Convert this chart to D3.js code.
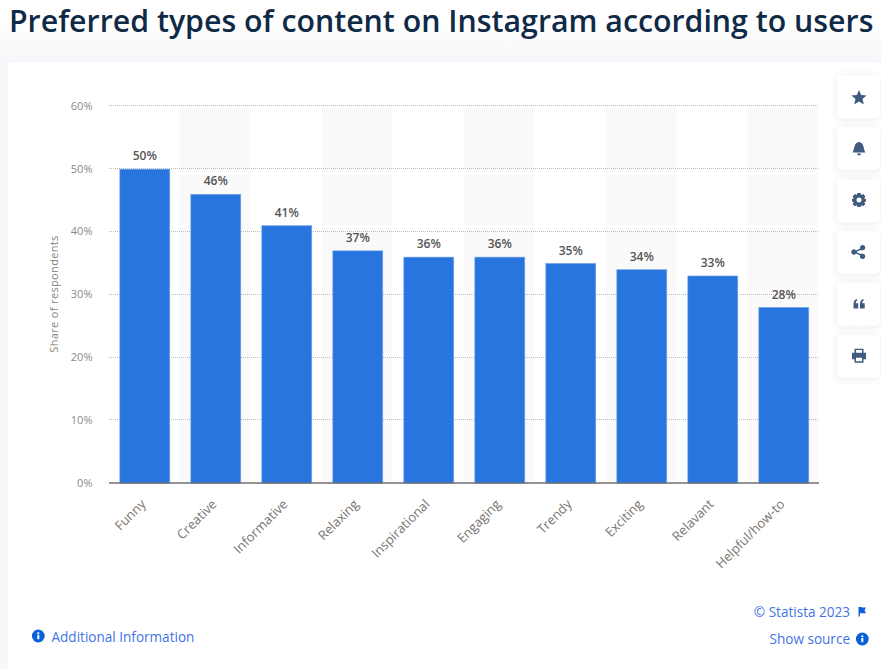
<!DOCTYPE html>
<html>
<head>
<meta charset="utf-8">
<script src="https://cdn.jsdelivr.net/npm/d3@7/dist/d3.min.js"></script>
<style>
html, body { margin: 0; padding: 0; background: #fff; overflow: hidden; }
text { font-family: "Open Sans", sans-serif; }
</style>
</head>
<body>
<svg id="chart" width="881" height="669"></svg>
<script>
const categories = ['Funny', 'Creative', 'Informative', 'Relaxing', 'Inspirational', 'Engaging', 'Trendy', 'Exciting', 'Relavant', 'Helpful/how-to']
const shares = [50, 46, 41, 37, 36, 36, 35, 34, 33, 28]
const yTicks = [0, 10, 20, 30, 40, 50, 60]

const titleText = 'Preferred types of content on Instagram according to users'
const yLabel = 'Share of respondents'

const svg = d3.select('#chart')
const defs = svg.append('defs')

const fade = defs.append('linearGradient').attr('id', 'fade').attr('x1', 0).attr('x2', 0).attr('y1', 0).attr('y2', 1)
fade.append('stop').attr('offset', 0.35).attr('stop-color', '#fff')
fade.append('stop').attr('offset', 1).attr('stop-color', '#f5f6f9')

const shadow = defs.append('filter').attr('id', 'btnShadow').attr('x', '-30%').attr('y', '-30%').attr('width', '160%').attr('height', '160%')
shadow.append('feDropShadow').attr('dx', 0).attr('dy', 1).attr('stdDeviation', 4).attr('flood-color', '#1f3a5f').attr('flood-opacity', 0.09)

// page background and card
svg.append('rect').attr('width', 881).attr('height', 669).attr('fill', '#f7f8fb')
svg.append('rect').attr('width', 881).attr('height', 63).attr('fill', 'url(#fade)')
svg.append('rect').attr('x', 8).attr('y', 62).attr('width', 873).attr('height', 620).attr('rx', 4).attr('fill', '#fff')

svg.append('text')
    .attr('x', 9).attr('y', 31.5)
    .attr('font-size', 30.3).attr('font-weight', 600)
    .attr('fill', '#0f2a46')
    .text(titleText)

const x = d3.scaleBand().domain(categories).range([108.5, 818.5]).paddingInner(0).paddingOuter(0)
const y = d3.scaleLinear().domain([0, 60]).range([483.3, 106.3])
const barWidth = 50
const barShift = 0.8

// alternating column shading
svg.append('g').selectAll('rect')
    .data(categories.filter((d, i) => i % 2 == 1))
    .join('rect')
    .attr('x', d => x(d))
    .attr('y', y(60))
    .attr('width', x.bandwidth())
    .attr('height', y(0) - y(60))
    .attr('fill', '#fafafa')

// gridlines
svg.append('g').selectAll('line')
    .data(yTicks.filter(d => d > 0))
    .join('line')
    .attr('x1', 109).attr('x2', 819)
    .attr('y1', d => Math.round(y(d)) - 0.5).attr('y2', d => Math.round(y(d)) - 0.5)
    .attr('stroke', '#bdbdbd')
    .attr('stroke-width', 1)
    .attr('stroke-dasharray', '1,1')

// y axis
const yAxis = svg.append('g')
    .attr('transform', 'translate(108.5,-0.6)')
    .call(d3.axisLeft(y).tickValues(yTicks).tickSize(0).tickPadding(16).tickFormat(d => d + '%'))
yAxis.select('.domain').remove()
yAxis.selectAll('text')
    .attr('font-size', 11)
    .attr('font-family', '"Open Sans", sans-serif')
    .attr('fill', '#8a8a8a')

svg.append('text')
    .attr('transform', 'translate(58,294) rotate(-90)')
    .attr('text-anchor', 'middle')
    .attr('font-size', 11)
    .attr('letter-spacing', 0.35)
    .attr('fill', '#8d7f78')
    .text(yLabel)

// bars
svg.append('g').selectAll('rect')
    .data(categories)
    .join('rect')
    .attr('x', d => x(d) + (x.bandwidth() - barWidth) / 2 + barShift)
    .attr('y', (d, i) => y(shares[i]))
    .attr('width', barWidth)
    .attr('height', (d, i) => y(0) - y(shares[i]))
    .attr('fill', '#2975df')
    .attr('stroke', '#7fabea')
    .attr('stroke-width', 0.6)

// value labels
svg.append('g').selectAll('text')
    .data(categories)
    .join('text')
    .attr('x', d => x(d) + x.bandwidth() / 2 + barShift)
    .attr('y', (d, i) => y(shares[i]) - 8.8)
    .attr('text-anchor', 'middle')
    .attr('font-size', 12)
    .attr('font-weight', 600)
    .attr('fill', '#555555')
    .text((d, i) => shares[i] + '%')

// x axis
const xAxis = svg.append('g')
    .attr('transform', 'translate(0,482.5)')
    .call(d3.axisBottom(x).tickSize(0).tickPadding(0))
xAxis.select('.domain').attr('stroke', '#707070').attr('stroke-width', 1.4)
xAxis.selectAll('text')
    .attr('font-size', 13)
    .attr('font-family', '"Open Sans", sans-serif')
    .attr('fill', '#7a7470')
    .attr('text-anchor', 'end')
    .attr('dy', 0)
    .attr('transform', d => `translate(${x.bandwidth() / 2 - 33},22.5) rotate(-45)`)

// side buttons
const iconColor = '#3f5b80'
const buttonIcons = [
    'M0,-7.5 L2.2,-2.4 L7.6,-2 L3.5,1.5 L4.8,7 L0,4.1 L-4.8,7 L-3.5,1.5 L-7.6,-2 L-2.2,-2.4 Z',
    'M-6.5,4 C-4.5,2 -5.5,-6 0,-6.5 C5.5,-6 4.5,2 6.5,4 Z M-2,5 A2,2 0 0 0 2,5 Z',
    'M-1.6,-7 L1.6,-7 L2.2,-5 L4.2,-6 L6.4,-3.6 L5.2,-1.6 L7,-1 L7,1.6 L5.2,2 L6.4,4 L4.2,6.2 L2.2,5.2 L1.6,7 L-1.6,7 L-2.2,5.2 L-4.2,6.2 L-6.4,4 L-5.2,2 L-7,1.6 L-7,-1 L-5.2,-1.6 L-6.4,-3.6 L-4.2,-6 L-2.2,-5 Z M0,-2.6 A2.6,2.6 0 1 0 0.01,-2.6 Z',
    'M3.6,-7 A2.6,2.6 0 1 1 3.6,-1.8 L1,-1.8 L-2,-0.6 A2.6,2.6 0 0 1 -2,0.6 L1,1.8 L3.6,1.8 A2.6,2.6 0 1 1 1.2,3.4 L-3,1.6 A2.6,2.6 0 1 1 -3,-1.6 L1.2,-3.4 A2.6,2.6 0 0 1 3.6,-7 Z',
    'M-5.5,4.5 L-5.5,0 C-5.5,-3 -4,-4.8 -2,-5 L-2,-3.2 C-2.8,-3 -3.2,-2 -3.2,-0.8 L-0.8,-0.8 L-0.8,4.5 Z M1,4.5 L1,0 C1,-3 2.5,-4.8 4.5,-5 L4.5,-3.2 C3.7,-3 3.3,-2 3.3,-0.8 L5.7,-0.8 L5.7,4.5 Z',
    'M-4.5,-7 L4.5,-7 L4.5,-3 L7,-3 L7,3.5 L4.5,3.5 L4.5,7 L-4.5,7 L-4.5,3.5 L-7,3.5 L-7,-3 L-4.5,-3 Z M-3,-5.6 L-3,-3 L3,-3 L3,-5.6 Z M-3,2 L-3,5.6 L3,5.6 L3,2 Z'
]
const buttonTops = [75.5, 127.5, 179.5, 231.5, 283, 335]
const iconOffsets = [22, 21, 20.5, 20.5, 21, 20.7]

const buttons = svg.append('g').selectAll('g')
    .data(buttonIcons)
    .join('g')
    .attr('transform', (d, i) => `translate(837,${buttonTops[i]})`)
buttons.append('rect')
    .attr('width', 43).attr('height', 42.5).attr('rx', 5)
    .attr('fill', '#fff')
    .attr('filter', 'url(#btnShadow)')
buttons.append('path')
    .attr('transform', (d, i) => `translate(22,${iconOffsets[i]})`)
    .attr('d', d => d)
    .attr('fill', iconColor)
    .attr('fill-rule', 'evenodd')

// footer links
const linkColor = '#3f74e6'
const infoIcon = (cx, cy) => {
    const g = svg.append('g').attr('transform', `translate(${cx},${cy})`)
    g.append('circle').attr('r', 6.4).attr('fill', '#0b5fd8')
    g.append('rect').attr('x', -1).attr('y', -1).attr('width', 2).attr('height', 4.2).attr('fill', '#fff')
    g.append('rect').attr('x', -1).attr('y', -3.6).attr('width', 2).attr('height', 1.8).attr('fill', '#fff')
}

infoIcon(38.3, 636)
svg.append('text').attr('x', 51.5).attr('y', 641.5)
    .attr('font-size', 13.55).attr('fill', linkColor).text('Additional Information')

svg.append('text').attr('x', 850).attr('y', 617)
    .attr('text-anchor', 'end').attr('font-size', 13.55).attr('fill', linkColor).text('© Statista 2023')
svg.append('path')
    .attr('transform', 'translate(858.5,607)')
    .attr('d', 'M0,0 L0,9.5 L1.4,9.5 L1.4,6.2 L7.5,6.2 L6,3.2 L7.5,0.4 L3.4,0.4 L3.2,0 Z')
    .attr('fill', '#0b5fd8')

svg.append('text').attr('x', 850).attr('y', 644)
    .attr('text-anchor', 'end').attr('font-size', 13.55).attr('fill', linkColor).text('Show source')
infoIcon(862.3, 639)
</script>
</body>
</html>
